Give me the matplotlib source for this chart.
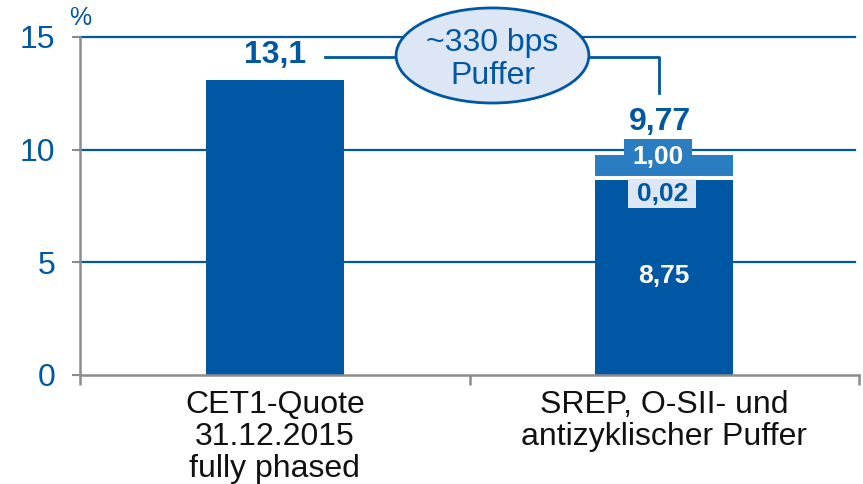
import matplotlib.pyplot as plt
from matplotlib.patches import Ellipse, Rectangle
from matplotlib import rcParams

rcParams['font.family'] = ['Liberation Sans', 'DejaVu Sans']

# Daten
categories = ['CET1-Quote\n31.12.2015\nfully phased', 'SREP, O-SII- und\nantizyklischer Puffer']
cet1_value = 13.1
srep_base = 8.75
srep_osii = 0.02
srep_buffer = 1.00
srep_total = 9.77
bubble_text = '~330 bps\nPuffer'
y_ticks = [0, 5, 10, 15]

dark_blue = '#0057a3'
mid_blue = '#2a7dc0'
pale_blue = '#dce6f5'
grey = '#8c8c8c'

fig = plt.figure(figsize=(8.63, 4.84), dpi=100)
ax = fig.add_axes([80 / 863, 109 / 484, 779 / 863, 338 / 484])
ax.set_xlim(-0.5, 1.5)
ax.set_ylim(0, 15)

# Gitternetz
for y in y_ticks[1:]:
    ax.plot([-0.5, 1.49], [y, y], color=dark_blue, lw=1.6, zorder=1, clip_on=False)

w = 0.354
ax.bar(0, cet1_value, width=w, color=dark_blue, zorder=2)
ax.bar(1, srep_base, width=w, color=dark_blue, zorder=2)
ax.bar(1, srep_osii, bottom=srep_base, width=w, color='white', edgecolor='white', lw=2.2, zorder=3)
ax.bar(1, srep_total - srep_base - srep_osii, bottom=srep_base + srep_osii, width=w,
       color=mid_blue, zorder=2)

# Achsen
for s in ['top', 'right']:
    ax.spines[s].set_visible(False)
for s in ['left', 'bottom']:
    ax.spines[s].set_color(grey)
    ax.spines[s].set_linewidth(1.8)
ax.set_yticks(y_ticks)
ax.tick_params(axis='y', colors=grey, labelcolor=dark_blue, labelsize=23,
               length=6, width=1.5, pad=12)
ax.set_xticks([-0.5, 0.5, 1.5])
ax.set_xticklabels([])
ax.tick_params(axis='x', colors=grey, length=7, width=1.8, direction='out')

for i, lab in enumerate(categories):
    ax.annotate(lab, xy=(i, 0), xytext=(0, -11), textcoords='offset points',
                ha='center', va='top', fontsize=23, color='#111111', linespacing=1.08)

ax.text(-0.5, 15.3, '%', color=dark_blue, fontsize=18, ha='center', va='bottom')

# Werte
ax.annotate('13,1', xy=(0, cet1_value), xytext=(0, 18), textcoords='offset points',
            ha='center', va='center', fontsize=23, fontweight='bold', color=dark_blue)
ax.annotate('9,77', xy=(1, srep_total), xytext=(-3, 24), textcoords='offset points',
            ha='center', va='center', fontsize=23, fontweight='bold', color=dark_blue)
ax.text(1, srep_base / 2, '8,75', ha='center', va='center', fontsize=19,
        fontweight='bold', color='white', zorder=4)

ax.add_patch(Rectangle((0.897, 8.89), 0.175, 1.6, fc=mid_blue, ec='none', zorder=3,
                       clip_on=False))
ax.text(0.985, 9.68, '{:.2f}'.format(srep_buffer).replace('.', ','), ha='center', va='center',
        fontsize=19, fontweight='bold', color='white', zorder=4)
ax.add_patch(Rectangle((0.908, 7.42), 0.174, 1.29, fc=pale_blue, ec='none', zorder=3))
ax.text(0.995, 8.05, '{:.2f}'.format(srep_osii).replace('.', ','), ha='center', va='center',
        fontsize=19, fontweight='bold', color=dark_blue, zorder=4)

# Puffer-Blase mit Verbindungslinie
ax.plot([0.128, 0.987, 0.987], [14.13, 14.13, 12.53], color=dark_blue, lw=2,
        zorder=5, clip_on=False)
ell = Ellipse((0.559, 14.18), 0.495, 4.22, fc=pale_blue, ec=dark_blue, lw=2,
              zorder=6, clip_on=False)
ax.add_patch(ell)
ax.text(0.559, 14.0, bubble_text, ha='center', va='center', fontsize=23,
        color=dark_blue, zorder=7, linespacing=1.13)

fig.savefig('out.png', dpi=100)
